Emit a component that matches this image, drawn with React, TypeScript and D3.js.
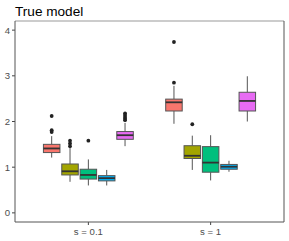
import React from "react";
import * as d3 from "d3";

const categories = ["s = 0.1", "s = 1"];
const groups = ["A", "B", "C", "D", "E"];
const colors = ["#F8766D", "#A3A500", "#00BF7D", "#00B0F6", "#E76BF3"];
const yTicks = [0, 1, 2, 3, 4];

// [ymin, q1, median, q3, ymax] per category per group
const statsS01 = [
  [1.21, 1.32, 1.41, 1.5, 1.68],
  [0.68, 0.83, 0.91, 1.07, 1.44],
  [0.6, 0.74, 0.83, 0.955, 1.17],
  [0.6, 0.7, 0.76, 0.815, 0.94],
  [1.46, 1.61, 1.7, 1.78, 1.97],
];
const statsS1 = [
  [1.95, 2.23, 2.42, 2.49, 2.78],
  [0.94, 1.19, 1.25, 1.47, 1.69],
  [0.71, 0.89, 1.1, 1.45, 1.7],
  [0.9, 0.955, 1.01, 1.06, 1.14],
  [2.0, 2.23, 2.45, 2.64, 2.99],
];
const outliersS01 = [
  [2.12, 1.81, 1.77],
  [1.58, 1.52, 1.46],
  [1.58],
  [],
  [2.18, 2.14, 2.1, 2.06, 2.03],
];
const outliersS1 = [
  [3.74, 2.85],
  [1.94],
  [],
  [],
  [],
];

const W = 289;
const H = 241;
const left = 15;
const right = 284;
const top = 21;
const bottom = 222;

export default function App() {
  // ggplot discrete expansion: positions 1 and 2 on [0.4, 2.6]
  const xc = d3.scaleLinear().domain([0.4, 2.6]).range([left, right]);
  const y = d3.scaleLinear().domain([-0.2, 4.2]).range([bottom, top]);
  const totalW = xc(0.75) - xc(0);
  const slot = totalW / groups.length;
  const boxW = slot * 0.9;
  const allStats = [statsS01, statsS1];
  const allOut = [outliersS01, outliersS1];

  return (
    <svg width={W} height={H} style={{ position: "absolute", left: 0, top: 0 }}
      fontFamily="Liberation Sans, Arial, sans-serif">
      <rect x={0} y={0} width={W} height={H} fill="#fff" />
      <text x={15} y={16} fontSize={13.6} fill="#000">True model</text>
      {categories.map((cat, ci) => {
        const cx = xc(ci + 1);
        return (
          <g key={cat}>
            {groups.map((g, gi) => {
              const s = allStats[ci][gi];
              const c = cx - totalW / 2 + slot * (gi + 0.5);
              return (
                <g key={g}>
                  <line x1={c} x2={c} y1={y(s[4])} y2={y(s[3])} stroke="#555" strokeWidth={1} />
                  <line x1={c} x2={c} y1={y(s[1])} y2={y(s[0])} stroke="#555" strokeWidth={1} />
                  <rect x={c - boxW / 2} y={y(s[3])} width={boxW} height={y(s[1]) - y(s[3])}
                    fill={colors[gi]} stroke="#555" strokeWidth={1} />
                  <line x1={c - boxW / 2} x2={c + boxW / 2} y1={y(s[2])} y2={y(s[2])}
                    stroke="#333" strokeWidth={1.8} />
                  {allOut[ci][gi].map((o, oi) => (
                    <circle key={oi} cx={c} cy={y(o)} r={1.9} fill="#222" />
                  ))}
                </g>
              );
            })}
            <line x1={cx} x2={cx} y1={bottom} y2={bottom + 3} stroke="#444" />
            <text x={cx} y={bottom + 12.5} fontSize={9.6} fill="#4D4D4D" textAnchor="middle">{cat}</text>
          </g>
        );
      })}
      {yTicks.map((t) => (
        <g key={t}>
          <line x1={left - 3} x2={left} y1={y(t)} y2={y(t)} stroke="#444" />
          <text x={left - 5} y={y(t) + 3.4} fontSize={9.6} fill="#4D4D4D" textAnchor="end">{t}</text>
        </g>
      ))}
      <line x1={left} x2={right} y1={top} y2={top} stroke="#999" />
      <line x1={right} x2={right} y1={top} y2={bottom} stroke="#555" />
      <line x1={left} x2={left} y1={top} y2={bottom} stroke="#555" />
      <line x1={left} x2={right} y1={bottom} y2={bottom} stroke="#555" />
    </svg>
  );
}
